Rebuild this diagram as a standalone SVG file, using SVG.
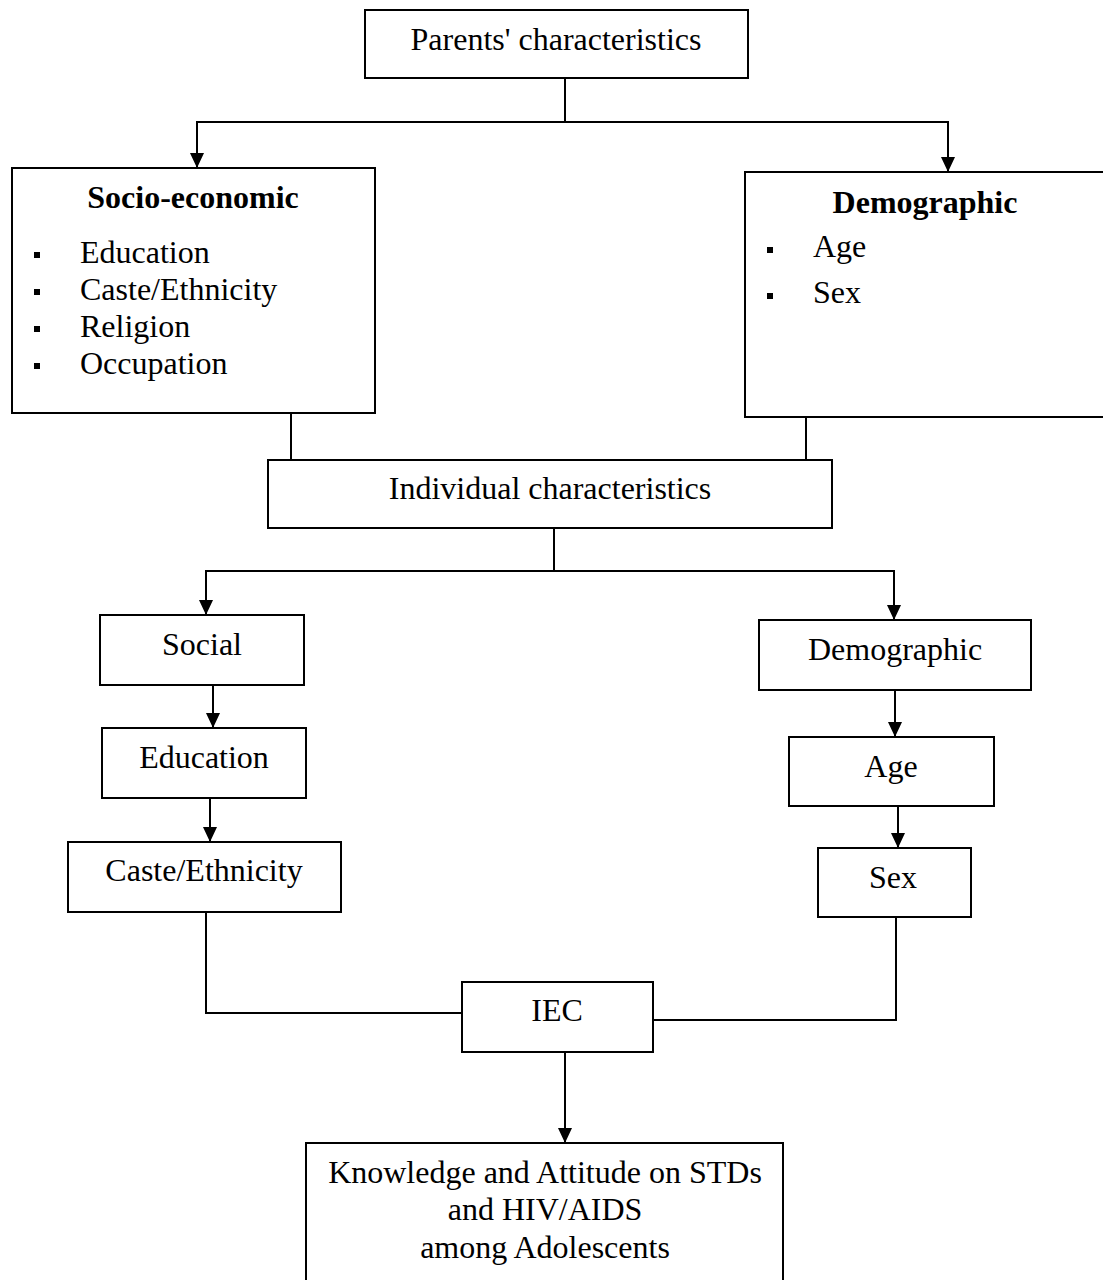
<svg xmlns="http://www.w3.org/2000/svg" width="1103" height="1280" viewBox="0 0 1103 1280">
<style>
  .box { fill: #fff; stroke: #000; stroke-width: 2; }
  .t { font-family: "Liberation Serif", "Times New Roman", serif; font-size: 32px; fill: #000; }
  .c { text-anchor: middle; }
  .b { font-weight: bold; }
  .ln { fill: none; stroke: #000; stroke-width: 2; }
  .bul { fill: #000; }
</style>
<defs>
  <marker id="arr" viewBox="0 0 15 14" refX="15" refY="7" markerWidth="15" markerHeight="14" markerUnits="userSpaceOnUse" orient="auto">
    <path d="M0,0 L15,7 L0,14 z" fill="#000"/>
  </marker>
</defs>
<rect width="1103" height="1280" fill="#fff"/>

<g id="connectors">
  <polyline class="ln" points="565,78 565,122"/>
  <polyline class="ln" points="565,122 197,122 197,168" marker-end="url(#arr)"/>
  <polyline class="ln" points="565,122 948,122 948,172" marker-end="url(#arr)"/>
  <line class="ln" x1="291" y1="413" x2="291" y2="460"/>
  <line class="ln" x1="806" y1="417" x2="806" y2="460"/>
  <polyline class="ln" points="554,528 554,572"/>
  <polyline class="ln" points="554,571 206,571 206,615" marker-end="url(#arr)"/>
  <polyline class="ln" points="554,571 894,571 894,620" marker-end="url(#arr)"/>
  <line class="ln" x1="213" y1="685" x2="213" y2="728" marker-end="url(#arr)"/>
  <line class="ln" x1="210" y1="798" x2="210" y2="842" marker-end="url(#arr)"/>
  <line class="ln" x1="895" y1="690" x2="895" y2="737" marker-end="url(#arr)"/>
  <line class="ln" x1="898" y1="806" x2="898" y2="848" marker-end="url(#arr)"/>
  <polyline class="ln" points="206,912 206,1013 462,1013"/>
  <polyline class="ln" points="896,917 896,1020 653,1020"/>
  <line class="ln" x1="565" y1="1050" x2="565" y2="1143" marker-end="url(#arr)"/>
</g>

<g id="parents">
  <rect class="box" x="365" y="10" width="383" height="68"/>
  <text class="t c" x="556" y="50">Parents' characteristics</text>
</g>

<g id="socio-economic">
  <rect class="box" x="12" y="168" width="363" height="245"/>
  <text class="t c b" x="193" y="208">Socio-economic</text>
  <rect class="bul" x="34" y="252" width="6" height="6"/>
  <text class="t" x="80" y="263">Education</text>
  <rect class="bul" x="34" y="289" width="6" height="6"/>
  <text class="t" x="80" y="300">Caste/Ethnicity</text>
  <rect class="bul" x="34" y="326" width="6" height="6"/>
  <text class="t" x="80" y="337">Religion</text>
  <rect class="bul" x="34" y="363" width="6" height="6"/>
  <text class="t" x="80" y="374">Occupation</text>
</g>

<g id="demographic-parents">
  <rect class="box" x="745" y="172" width="400" height="245"/>
  <text class="t c b" x="925" y="213">Demographic</text>
  <rect class="bul" x="767" y="247" width="6" height="6"/>
  <text class="t" x="813" y="257">Age</text>
  <rect class="bul" x="767" y="293" width="6" height="6"/>
  <text class="t" x="813" y="303">Sex</text>
</g>

<g id="individual">
  <rect class="box" x="268" y="460" width="564" height="68"/>
  <text class="t c" x="550" y="499">Individual characteristics</text>
</g>

<g id="social">
  <rect class="box" x="100" y="615" width="204" height="70"/>
  <text class="t c" x="202" y="655">Social</text>
</g>

<g id="education">
  <rect class="box" x="102" y="728" width="204" height="70"/>
  <text class="t c" x="204" y="768">Education</text>
</g>

<g id="caste">
  <rect class="box" x="68" y="842" width="273" height="70"/>
  <text class="t c" x="204" y="881">Caste/Ethnicity</text>
</g>

<g id="demographic-individual">
  <rect class="box" x="759" y="620" width="272" height="70"/>
  <text class="t c" x="895" y="660">Demographic</text>
</g>

<g id="age">
  <rect class="box" x="789" y="737" width="205" height="69"/>
  <text class="t c" x="891" y="777">Age</text>
</g>

<g id="sex">
  <rect class="box" x="818" y="848" width="153" height="69"/>
  <text class="t c" x="893" y="888">Sex</text>
</g>

<g id="iec">
  <rect class="box" x="462" y="982" width="191" height="70"/>
  <text class="t c" x="557" y="1021">IEC</text>
</g>

<g id="outcome">
  <rect class="box" x="306" y="1143" width="477" height="160"/>
  <text class="t c" x="545" y="1183">Knowledge and Attitude on STDs</text>
  <text class="t c" x="545" y="1220">and HIV/AIDS</text>
  <text class="t c" x="545" y="1258">among Adolescents</text>
</g>
</svg>
